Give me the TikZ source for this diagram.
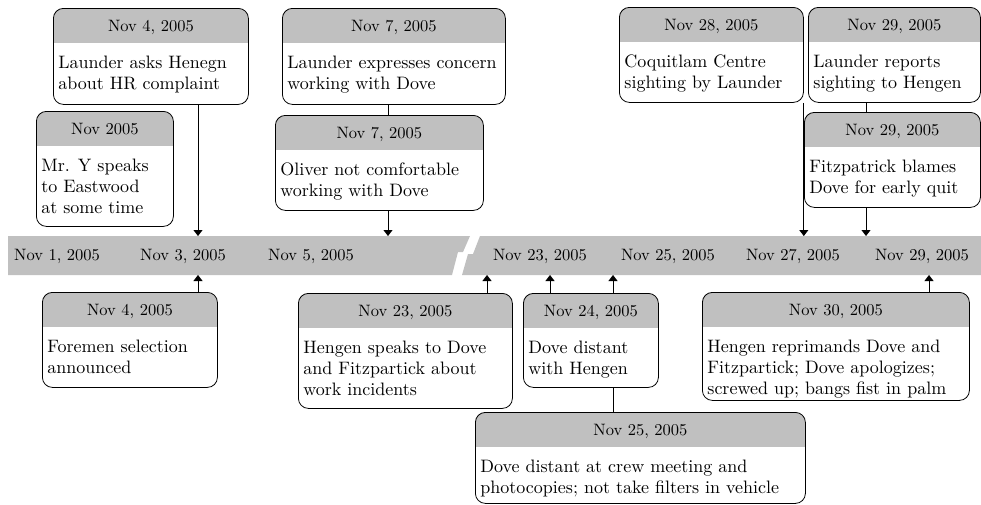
\documentclass[tikz,border=0pt]{standalone}
\usepackage{fontspec}
\setmainfont{lmroman10-regular}[Extension=.otf]
\usepackage{tikz}
\usetikzlibrary{arrows.meta}
\definecolor{hdr}{HTML}{C0C0C0}
\newcommand{\datefont}{\fontsize{16.5}{21}\selectfont}
\newcommand{\bodyfont}{\fontsize{18}{21}\selectfont}
% width, height, date, text
\newcommand{\evtext}[4]{\parbox[t][#2][t]{\dimexpr#1-10pt\relax}{\centering\datefont\rule{0pt}{23pt}#3\par\vspace{16pt}\raggedright\bodyfont #4}}

\begin{document}
\begin{tikzpicture}[x=1pt, y=-1pt,
  evbox/.style={draw, line width=0.8pt, rounded corners=10pt, anchor=north west,
    inner xsep=5pt, inner ysep=0pt, font=\bodyfont,
    path picture={\fill[hdr, sharp corners] (path picture bounding box.north west)
      rectangle ([yshift=-35pt]path picture bounding box.north east);}},
  day/.style={font=\datefont, inner sep=0pt},
  link/.style={line width=0.8pt},
  arr/.style={link, -{Triangle[width=9pt,length=6pt]}}]
 \useasboundingbox (0,0) rectangle (981,504);
 % the time band, broken between Nov 5 and Nov 23
 \fill[hdr] (8,236) -- (470,236) -- (463,252) -- (458,252) -- (452,275) -- (8,275) -- cycle;
 \fill[hdr] (480,236) -- (981,236) -- (981,275) -- (462,275) -- (468,254) -- (473,254) -- cycle;
 \node[day] (d1) at (57,256) {Nov 1, 2005};
 \node[day] (d3) at (183,256) {Nov 3, 2005};
 \node[day] (d5) at (311,256) {Nov 5, 2005};
 \node[day] (d23) at (540,256) {Nov 23, 2005};
 \node[day] (d25) at (668,256) {Nov 25, 2005};
 \node[day] (d27) at (793,256) {Nov 27, 2005};
 \node[day] (d29) at (922,256) {Nov 29, 2005};
 \coordinate (t1) at (198,236);
 \coordinate (t2) at (388,236);
 \coordinate (t3) at (803,236);
 \coordinate (t4) at (866,236);
 \coordinate (u1) at (198,275);
 \coordinate (u2) at (487,275);
 \coordinate (u3) at (550,275);
 \coordinate (u4) at (613,275);
 \coordinate (u5) at (929,275);
 % events above
 \node[evbox] (b1) at (53,8) {\evtext{195pt}{96pt}{Nov 4, 2005}{Launder asks Henegn\\about HR complaint}};
 \node[evbox] (b2) at (36,111) {\evtext{137pt}{115pt}{Nov 2005}{Mr. Y speaks\\to Eastwood\\at some time}};
 \node[evbox] (b3) at (282,8) {\evtext{223pt}{96pt}{Nov 7, 2005}{Launder expresses concern\\working with Dove}};
 \node[evbox] (b4) at (275,115) {\evtext{208pt}{95pt}{Nov 7, 2005}{Oliver not comfortable\\working with Dove}};
 \node[evbox] (b5) at (619,7) {\evtext{184pt}{95pt}{Nov 28, 2005}{Coquitlam Centre\\sighting by Launder}};
 \node[evbox] (b6) at (808,7) {\evtext{172pt}{95pt}{Nov 29, 2005}{Launder reports\\sighting to Hengen}};
 \node[evbox] (b7) at (804,112) {\evtext{176pt}{95pt}{Nov 29, 2005}{Fitzpatrick blames\\Dove for early quit}};
 % events below
 \node[evbox] (b8) at (42,292) {\evtext{175pt}{95pt}{Nov 4, 2005}{Foremen selection\\announced}};
 \node[evbox] (b9) at (298,293) {\evtext{214pt}{115pt}{Nov 23, 2005}{Hengen speaks to Dove\\and Fitzpartick about\\work incidents}};
 \node[evbox] (b10) at (523,293) {\evtext{135pt}{94pt}{Nov 24, 2005}{Dove distant\\with Hengen}};
 \node[evbox] (b11) at (475,412) {\evtext{330pt}{91pt}{Nov 25, 2005}{Dove distant at crew meeting and\\photocopies; not take filters in vehicle}};
 \node[evbox] (b12) at (702,292) {\evtext{267pt}{108pt}{Nov 30, 2005}{Hengen reprimands Dove and\\Fitzpartick; Dove apologizes;\\screwed up; bangs fist in palm}};
 % connectors
 \draw[arr] (b1.south -| t1) -- (t1);
 \draw[link] (b3.south -| t2) -- (b4.north -| t2);
 \draw[arr] (b4.south -| t2) -- (t2);
 \draw[arr] (b5.south east) -- (b5.south east |- t3);
 \draw[link] (b6.south -| t4) -- (b7.north -| t4);
 \draw[arr] (b7.south -| t4) -- (t4);
 \draw[arr] (b8.north -| u1) -- (u1);
 \draw[arr] (b9.north -| u2) -- (u2);
 \draw[arr] (b10.north -| u3) -- (u3);
 \draw[link] (b11.north -| u4) -- (b10.south -| u4);
 \draw[arr] (b10.north -| u4) -- (u4);
 \draw[arr] (b12.north -| u5) -- (u5);
\end{tikzpicture}
\end{document}
